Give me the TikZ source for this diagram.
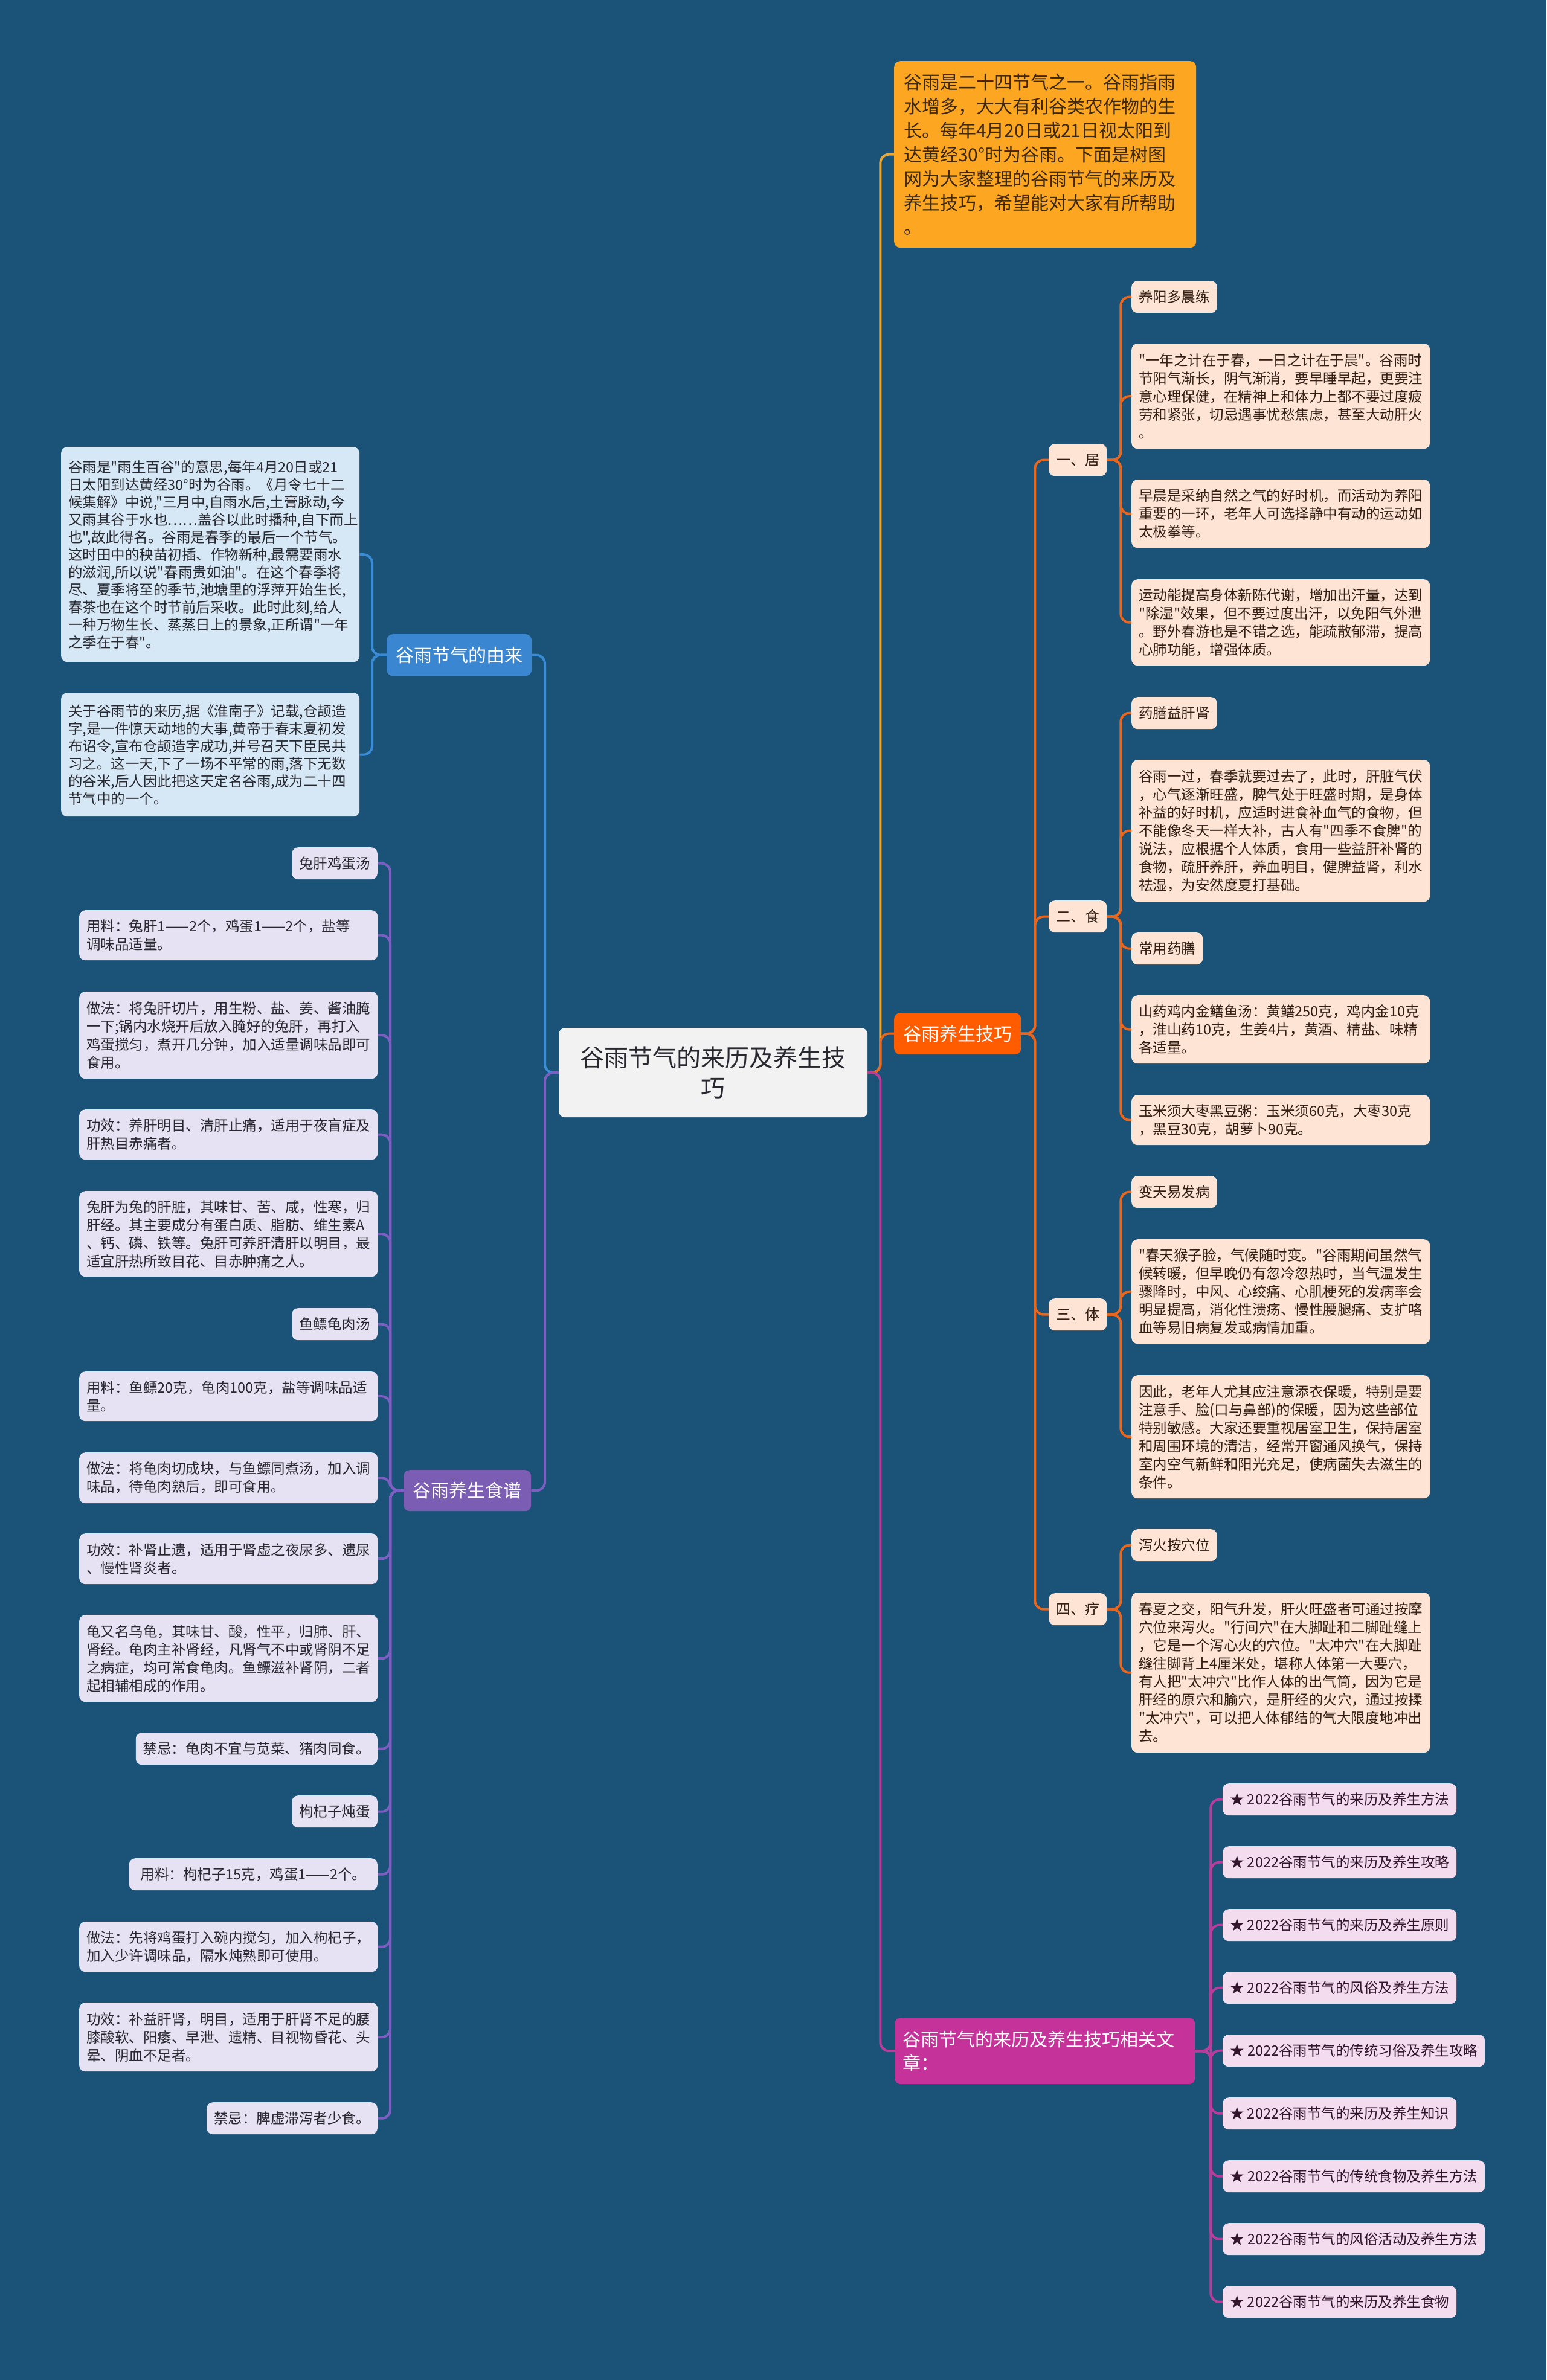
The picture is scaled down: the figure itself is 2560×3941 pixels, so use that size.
\documentclass[tikz,border=0pt]{standalone}
\usepackage{fontspec}
\setmainfont{Noto Sans CJK SC}[Ligatures=TeXOff]
\newcommand\myfs[2]{\fontsize{#1pt}{#2pt}\selectfont}
\definecolor{bgc}{RGB}{26,83,119}
\definecolor{centerfill}{RGB}{242,242,242}
\definecolor{introfill}{RGB}{252,166,33}
\definecolor{introtext}{RGB}{60,40,10}
\definecolor{jqfill}{RGB}{255,92,0}
\definecolor{peach}{RGB}{253,228,212}
\definecolor{peachtext}{RGB}{50,30,20}
\definecolor{relfill}{RGB}{197,50,153}
\definecolor{artfill}{RGB}{243,220,238}
\definecolor{arttext}{RGB}{50,20,45}
\definecolor{ylfill}{RGB}{58,134,208}
\definecolor{ylleaf}{RGB}{214,232,246}
\definecolor{spfill}{RGB}{124,93,180}
\definecolor{spleaf}{RGB}{231,226,243}
\definecolor{darktext}{RGB}{40,40,48}
\definecolor{lyellow}{RGB}{235,166,52}
\definecolor{lorange}{RGB}{232,102,30}
\definecolor{lmag}{RGB}{185,62,155}
\definecolor{lblue}{RGB}{58,140,215}
\definecolor{lpurple}{RGB}{125,95,195}
\tikzset{
  box/.style={rounded corners=10pt, inner xsep=12pt, inner ysep=0pt, anchor=north west},
  rleaf/.style={box, fill=peach, text=peachtext, font=\myfs{23.5}{30}, align=left},
  rlabel/.style={box, fill=peach, text=peachtext, font=\myfs{23.5}{30}, align=center, minimum height=53pt},
  lvtwo/.style={box, fill=peach, text=peachtext, font=\myfs{24}{30}, align=center, minimum width=93pt, minimum height=53pt},
  yleaf/.style={box, fill=ylleaf, text=darktext, font=\myfs{23.5}{29}, align=left, text width=470pt},
  kleaf/.style={box, fill=spleaf, text=darktext, font=\myfs{23.5}{30}, align=left, text width=470pt},
  klabel/.style={box, anchor=north east, fill=spleaf, text=darktext, font=\myfs{23.5}{30}, align=center, minimum height=53pt},
  art/.style={box, fill=artfill, text=arttext, font=\myfs{23.5}{30}, align=center, minimum height=53pt},
  cn/.style={line width=4pt, rounded corners=14pt},
}
\begin{document}
\begin{tikzpicture}[x=1pt,y=-1pt]
\useasboundingbox (0,0) rectangle (2560,3941);
\fill[bgc] (0,0) rectangle (2560,3941);

% central and main branches
\node[box, fill=centerfill, text=darktext, font=\myfs{40}{50}, align=center, minimum width=511pt, minimum height=148pt] (center) at (925,1702) {谷雨节气的来历及养生技\\巧};
\node[box, fill=introfill, text=introtext, font=\myfs{30}{40}, align=left, inner xsep=16pt, text width=468pt, minimum height=309pt] (intro) at (1480,101) {谷雨是二十四节气之一。谷雨指雨\\水增多，大大有利谷类农作物的生\\长。每年4月20日或21日视太阳到\\达黄经30°时为谷雨。下面是树图\\网为大家整理的谷雨节气的来历及\\养生技巧，希望能对大家有所帮助\\。};
\node[box, fill=jqfill, text=white, font=\myfs{30}{38}, align=center, minimum width=210pt, minimum height=69pt] (jiqiao) at (1480,1677) {谷雨养生技巧};
\node[box, fill=relfill, text=white, font=\myfs{30}{39}, align=left, inner xsep=13pt, text width=471pt, minimum height=110pt] (related) at (1481,3341) {谷雨节气的来历及养生技巧相关文\\章：};
\node[box, fill=ylfill, text=white, font=\myfs{30}{38}, align=center, minimum width=240pt, minimum height=69pt] (youlai) at (640,1050) {谷雨节气的由来};
\node[box, fill=spfill, text=white, font=\myfs{30}{38}, align=center, minimum width=211pt, minimum height=68pt] (shipu) at (668,2434) {谷雨养生食谱};

\draw[cn, lyellow] (center.east) -- ++(21,0) |- (intro.west);
\draw[cn, lorange] (center.east) -- ++(21,0) |- (jiqiao.west);
\draw[cn, lmag] (center.east) -- ++(21,0) |- (related.west);
\draw[cn, lblue] (center.west) -- ++(-23,0) |- (youlai.east);
\draw[cn, lpurple] (center.west) -- ++(-23,0) |- (shipu.east);

% level two right
\node[lvtwo] (ju) at (1736,735) {一、居};
\node[lvtwo] (shi) at (1736,1491) {二、食};
\node[lvtwo] (ti) at (1736,2150) {三、体};
\node[lvtwo] (liao) at (1736,2638) {四、疗};
\foreach \c in {ju,shi,ti,liao} \draw[cn, lorange] (jiqiao.east) -- ++(23,0) |- (\c.west);

% 一、居
\node[rlabel, minimum width=140pt] (r11) at (1873,465) {养阳多晨练};
\node[rleaf, text width=470pt, minimum height=174pt] (r12) at (1873,569) {"一年之计在于春，一日之计在于晨"。谷雨时\\节阳气渐长，阴气渐消，要早睡早起，更要注\\意心理保健，在精神上和体力上都不要过度疲\\劳和紧张，切忌遇事忧愁焦虑，甚至大动肝火\\。};
\node[rleaf, text width=470pt, minimum height=113pt] (r13) at (1873,794) {早晨是采纳自然之气的好时机，而活动为养阳\\重要的一环，老年人可选择静中有动的运动如\\太极拳等。};
\node[rleaf, text width=470pt, minimum height=143pt] (r14) at (1873,959) {运动能提高身体新陈代谢，增加出汗量，达到\\"除湿"效果，但不要过度出汗，以免阳气外泄\\。野外春游也是不错之选，能疏散郁滞，提高\\心肺功能，增强体质。};
\foreach \c in {r11,r12,r13,r14} \draw[cn, lorange] (ju.east) -- ++(23,0) |- (\c.west);

% 二、食
\node[rlabel, minimum width=140pt] (r21) at (1873,1154) {药膳益肝肾};
\node[rleaf, text width=470pt, minimum height=235pt] (r22) at (1873,1258) {谷雨一过，春季就要过去了，此时，肝脏气伏\\，心气逐渐旺盛，脾气处于旺盛时期，是身体\\补益的好时机，应适时进食补血气的食物，但\\不能像冬天一样大补，古人有"四季不食脾"的\\说法，应根据个人体质，食用一些益肝补肾的\\食物，疏肝养肝，养血明目，健脾益肾，利水\\祛湿，为安然度夏打基础。};
\node[rlabel, minimum width=117pt] (r23) at (1873,1544) {常用药膳};
\node[rleaf, text width=470pt, minimum height=113pt] (r24) at (1873,1648) {山药鸡内金鳝鱼汤：黄鳝250克，鸡内金10克\\，淮山药10克，生姜4片，黄酒、精盐、味精\\各适量。};
\node[rleaf, text width=470pt, minimum height=83pt] (r25) at (1873,1813) {玉米须大枣黑豆粥：玉米须60克，大枣30克\\，黑豆30克，胡萝卜90克。};
\foreach \c in {r21,r22,r23,r24,r25} \draw[cn, lorange] (shi.east) -- ++(23,0) |- (\c.west);

% 三、体
\node[rlabel, minimum width=140pt] (r31) at (1873,1947) {变天易发病};
\node[rleaf, text width=470pt, minimum height=173pt] (r32) at (1873,2052) {"春天猴子脸，气候随时变。"谷雨期间虽然气\\候转暖，但早晚仍有忽冷忽热时，当气温发生\\骤降时，中风、心绞痛、心肌梗死的发病率会\\明显提高，消化性溃疡、慢性腰腿痛、支扩咯\\血等易旧病复发或病情加重。};
\node[rleaf, text width=470pt, minimum height=204pt] (r33) at (1873,2277) {因此，老年人尤其应注意添衣保暖，特别是要\\注意手、脸(口与鼻部)的保暖，因为这些部位\\特别敏感。大家还要重视居室卫生，保持居室\\和周围环境的清洁，经常开窗通风换气，保持\\室内空气新鲜和阳光充足，使病菌失去滋生的\\条件。};
\foreach \c in {r31,r32,r33} \draw[cn, lorange] (ti.east) -- ++(23,0) |- (\c.west);

% 四、疗
\node[rlabel, minimum width=140pt] (r41) at (1873,2532) {泻火按穴位};
\node[rleaf, text width=470pt, minimum height=265pt] (r42) at (1873,2637) {春夏之交，阳气升发，肝火旺盛者可通过按摩\\穴位来泻火。"行间穴"在大脚趾和二脚趾缝上\\，它是一个泻心火的穴位。"太冲穴"在大脚趾\\缝往脚背上4厘米处，堪称人体第一大要穴，\\有人把"太冲穴"比作人体的出气筒，因为它是\\肝经的原穴和腧穴，是肝经的火穴，通过按揉\\"太冲穴"，可以把人体郁结的气大限度地冲出\\去。};
\foreach \c in {r41,r42} \draw[cn, lorange] (liao.east) -- ++(23,0) |- (\c.west);

% related articles
\node[art, minimum width=386pt] (a1) at (2024,2953) {★ 2022谷雨节气的来历及养生方法};
\node[art, minimum width=386pt] (a2) at (2024,3057) {★ 2022谷雨节气的来历及养生攻略};
\node[art, minimum width=386pt] (a3) at (2024,3161) {★ 2022谷雨节气的来历及养生原则};
\node[art, minimum width=386pt] (a4) at (2024,3265) {★ 2022谷雨节气的风俗及养生方法};
\node[art, minimum width=434pt] (a5) at (2024,3369) {★ 2022谷雨节气的传统习俗及养生攻略};
\node[art, minimum width=386pt] (a6) at (2024,3473) {★ 2022谷雨节气的来历及养生知识};
\node[art, minimum width=434pt] (a7) at (2024,3577) {★ 2022谷雨节气的传统食物及养生方法};
\node[art, minimum width=434pt] (a8) at (2024,3681) {★ 2022谷雨节气的风俗活动及养生方法};
\node[art, minimum width=386pt] (a9) at (2024,3785) {★ 2022谷雨节气的来历及养生食物};
\foreach \c in {a1,a2,a3,a4,a5,a6,a7,a8,a9} \draw[cn, lmag] (related.east) -- ++(26,0) |- (\c.west);

% origin
\node[yleaf, minimum height=356pt] (y1) at (101,740) {谷雨是"雨生百谷"的意思,每年4月20日或21\\日太阳到达黄经30°时为谷雨。《月令七十二\\候集解》中说,"三月中,自雨水后,土膏脉动,今\\又雨其谷于水也……盖谷以此时播种,自下而上\\也",故此得名。谷雨是春季的最后一个节气。\\这时田中的秧苗初插、作物新种,最需要雨水\\的滋润,所以说"春雨贵如油"。在这个春季将\\尽、夏季将至的季节,池塘里的浮萍开始生长,\\春茶也在这个时节前后采收。此时此刻,给人\\一种万物生长、蒸蒸日上的景象,正所谓"一年\\之季在于春"。};
\node[yleaf, minimum height=205pt] (y2) at (101,1147) {关于谷雨节的来历,据《淮南子》记载,仓颉造\\字,是一件惊天动地的大事,黄帝于春末夏初发\\布诏令,宣布仓颉造字成功,并号召天下臣民共\\习之。这一天,下了一场不平常的雨,落下无数\\的谷米,后人因此把这天定名谷雨,成为二十四\\节气中的一个。};
\foreach \c in {y1,y2} \draw[cn, lblue] (youlai.west) -- ++(-24,0) |- (\c.east);

% recipes
\node[klabel, minimum width=141pt] (k1) at (625,1403) {兔肝鸡蛋汤};
\node[kleaf, minimum height=83pt] (k2) at (131,1507) {用料：兔肝1——2个，鸡蛋1——2个，盐等\\调味品适量。};
\node[kleaf, minimum height=144pt] (k3) at (131,1642) {做法：将兔肝切片，用生粉、盐、姜、酱油腌\\一下;锅内水烧开后放入腌好的兔肝，再打入\\鸡蛋搅匀，煮开几分钟，加入适量调味品即可\\食用。};
\node[kleaf, minimum height=83pt] (k4) at (131,1837) {功效：养肝明目、清肝止痛，适用于夜盲症及\\肝热目赤痛者。};
\node[kleaf, minimum height=142pt] (k5) at (131,1972) {兔肝为兔的肝脏，其味甘、苦、咸，性寒，归\\肝经。其主要成分有蛋白质、脂肪、维生素A\\、钙、磷、铁等。兔肝可养肝清肝以明目，最\\适宜肝热所致目花、目赤肿痛之人。};
\node[klabel, minimum width=141pt] (k6) at (625,2166) {鱼鳔龟肉汤};
\node[kleaf, minimum height=82pt] (k7) at (131,2271) {用料：鱼鳔20克，龟肉100克，盐等调味品适\\量。};
\node[kleaf, minimum height=84pt] (k8) at (131,2405) {做法：将龟肉切成块，与鱼鳔同煮汤，加入调\\味品，待龟肉熟后，即可食用。};
\node[kleaf, minimum height=84pt] (k9) at (131,2539) {功效：补肾止遗，适用于肾虚之夜尿多、遗尿\\、慢性肾炎者。};
\node[kleaf, minimum height=144pt] (k10) at (131,2674) {龟又名乌龟，其味甘、酸，性平，归肺、肝、\\肾经。龟肉主补肾经，凡肾气不中或肾阴不足\\之病症，均可常食龟肉。鱼鳔滋补肾阴，二者\\起相辅相成的作用。};
\node[klabel, minimum width=400pt] (k11) at (625,2869) {禁忌：龟肉不宜与苋菜、猪肉同食。};
\node[klabel, minimum width=141pt] (k12) at (625,2973) {枸杞子炖蛋};
\node[klabel, minimum width=411pt] (k13) at (625,3077) {用料：枸杞子15克，鸡蛋1——2个。};
\node[kleaf, minimum height=83pt] (k14) at (131,3182) {做法：先将鸡蛋打入碗内搅匀，加入枸杞子，\\加入少许调味品，隔水炖熟即可使用。};
\node[kleaf, minimum height=114pt] (k15) at (131,3316) {功效：补益肝肾，明目，适用于肝肾不足的腰\\膝酸软、阳痿、早泄、遗精、目视物昏花、头\\晕、阴血不足者。};
\node[klabel, minimum width=282pt] (k16) at (625,3481) {禁忌：脾虚滞泻者少食。};
\foreach \c in {k1,k2,k3,k4,k5,k6,k7,k8,k9,k10,k11,k12,k13,k14,k15,k16} \draw[cn, lpurple] (shipu.west) -- ++(-22,0) |- (\c.east);
\end{tikzpicture}
\end{document}
